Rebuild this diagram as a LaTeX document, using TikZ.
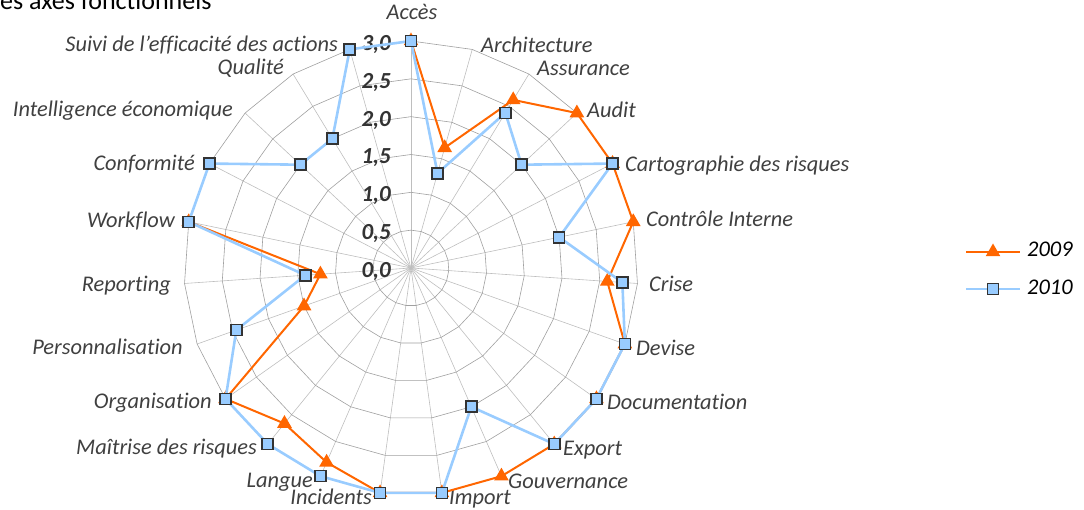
\documentclass[tikz,border=0pt]{standalone}
\usepackage{fontspec}
\setmainfont[Ligatures={NoCommon}]{Carlito}
\usetikzlibrary{shapes.geometric}
\definecolor{orn}{HTML}{FF6600}
\definecolor{blu}{HTML}{99CCFF}
\definecolor{sqd}{HTML}{333333}
\definecolor{grd}{HTML}{A0A0A0}
\definecolor{spk}{HTML}{BEBEBE}
\definecolor{txt}{HTML}{404040}
\begin{document}
\begin{tikzpicture}[x=1pt,y=1pt,
  lbl/.style={font=\fontsize{22.4}{26}\selectfont\itshape, text=txt, inner sep=0},
  tick/.style={font=\fontsize{23}{26}\selectfont\bfseries\itshape, text=sqd, inner sep=0},
  leg/.style={font=\fontsize{22.4}{26}\selectfont\itshape, text=black, inner sep=0},
  tri/.style={regular polygon, regular polygon sides=3, minimum size=17pt, inner sep=0, fill=orn},
  sq/.style={rectangle, minimum size=11pt, inner sep=0, fill=blu, draw=sqd, line width=1.6pt},
  l09/.style={orn, line width=2pt, line join=round},
  l10/.style={blu, line width=2.6pt, line join=round},
  ring/.style={grd, line width=0.6pt},
  spoke/.style={spk, line width=0.6pt}]
\useasboundingbox (-411,-242) rectangle (673,268);
\def\R{75.667}
\def\st{15.65217}
% title (partly cut off)
\node[anchor=base west, inner sep=0, font=\fontsize{26}{30}\selectfont] (title) at (-411,258.5) {es axes fonctionnels};
% grid
\coordinate (O) at (0,0);
\foreach \k in {0,...,22} {
  \coordinate (s\k) at ({90-\k*\st}:3*\R);
  \draw[spoke] (O) -- (s\k);
}
\foreach \v in {0.5,1,1.5,2,2.5,3} {
  \draw[ring] (90:\v*\R) \foreach \k in {1,...,22} { -- ({90-\k*\st}:\v*\R) } -- cycle;
}
% tick labels
\foreach \v/\t in {0/{0,0},0.5/{0,5},1/{1,0},1.5/{1,5},2/{2,0},2.5/{2,5},3/{3,0}} {
  \node[tick, anchor=base east] (t\v) at (-20,\v*\R-9.5) {\t};
}
% category labels
\node[lbl, anchor=base] (c0) at (1,248) {Accès};
\node[lbl, anchor=base west] (c1) at (70,215) {Architecture};
\node[lbl, anchor=base west] (c2) at (126,192) {Assurance};
\node[lbl, anchor=base west] (c3) at (176,150) {Audit};
\node[lbl, anchor=base west] (c4) at (214,96) {Cartographie des risques};
\node[lbl, anchor=base west] (c5) at (235,41) {Contrôle Interne};
\node[lbl, anchor=base west] (c6) at (238,-24) {Crise};
\node[lbl, anchor=base west] (c7) at (225,-88) {Devise};
\node[lbl, anchor=base west] (c8) at (196,-142) {Documentation};
\node[lbl, anchor=base west] (c9) at (152,-188) {Export};
\node[lbl, anchor=base west] (c10) at (97,-221) {Gouvernance};
\node[lbl, anchor=base west] (c11) at (38,-237) {Import};
\node[lbl, anchor=base east] (c12) at (-39,-237) {Incidents};
\node[lbl, anchor=base east] (c13) at (-98,-220) {Langue};
\node[lbl, anchor=base east] (c14) at (-154,-187) {Maîtrise des risques};
\node[lbl, anchor=base east] (c15) at (-199,-141) {Organisation};
\node[lbl, anchor=base east] (c16) at (-228,-87) {Personnalisation};
\node[lbl, anchor=base east] (c17) at (-240,-24) {Reporting};
\node[lbl, anchor=base east] (c18) at (-236,40) {Workflow};
\node[lbl, anchor=base east] (c19) at (-216,97) {Conformité};
\node[lbl, anchor=base east] (c20) at (-178,151) {Intelligence économique};
\node[lbl, anchor=base east] (c21) at (-127,193) {Qualité};
\node[lbl, anchor=base east] (c22) at (-73,216) {Suivi de l’efficacité des actions};
% data points
\foreach \k/\v in {0/3,1/1.65,2/2.6,3/3,4/3,5/3,6/2.6,7/3,8/3,9/3,10/3,11/3,12/3,13/2.8,14/2.65,15/3,16/1.5,17/1.2,18/3} {
  \coordinate (a\k) at ({90-\k*\st}:\v*\R);
}
\foreach \k/\v in {0/3,1/1.3,2/2.4,3/2,4/3,5/2,6/2.8,7/3,8/3,9/3,10/2,11/3,12/3,13/3,14/3,15/3,16/2.45,17/1.4,18/3,19/3,20/2,21/2,22/3} {
  \coordinate (b\k) at ({90-\k*\st}:\v*\R);
}
% series 2009
\draw[l09] (a0) \foreach \k in {1,...,18} { -- (a\k) };
\foreach \k in {0,...,18} { \node[tri] (ta\k) at (a\k) {}; }
% series 2010
\draw[l10] (b0) \foreach \k in {1,...,22} { -- (b\k) } -- cycle;
\foreach \k in {0,...,22} { \node[sq] (sb\k) at (b\k) {}; }
% legend
\coordinate (la1) at (555,16);
\coordinate (la2) at (609,16);
\draw[l09] (la1) -- (la2);
\node[tri] (lta) at (582,16) {};
\node[leg, anchor=base west] (ltxt1) at (616,11) {2009};
\coordinate (lb1) at (555,-21);
\coordinate (lb2) at (609,-21);
\draw[l10] (lb1) -- (lb2);
\node[sq] (lsb) at (582,-21) {};
\node[leg, anchor=base west] (ltxt2) at (616,-27) {2010};
\end{tikzpicture}
\end{document}
